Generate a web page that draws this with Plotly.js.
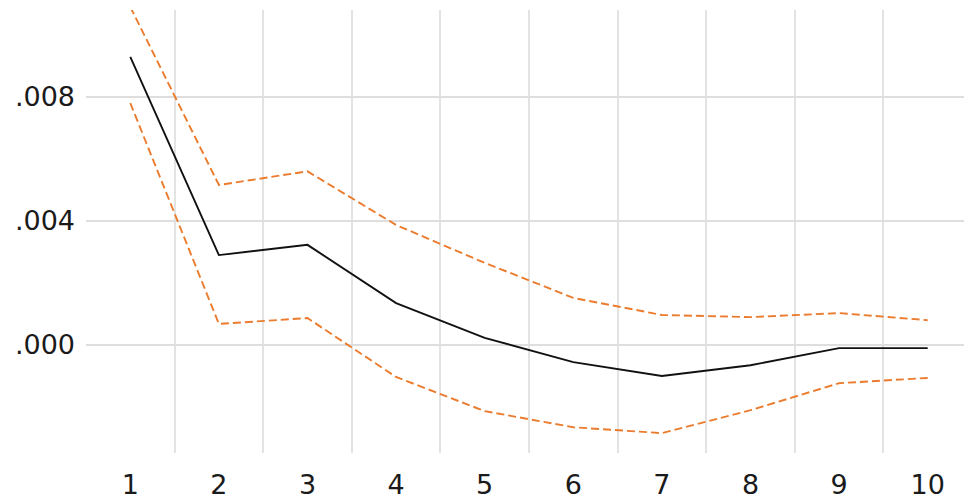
<!DOCTYPE html>
<html>
<head>
<meta charset="utf-8">
<script src="https://cdn.plot.ly/plotly-3.0.1.min.js"></script>
<style>html,body{margin:0;padding:0;background:#fff;}#chart{width:964px;height:501px;}</style>
</head>
<body>
<div id="chart"></div>
<script>
const periods = [1, 2, 3, 4, 5, 6, 7, 8, 9, 10];
const response = [0.00929, 0.0029, 0.00323, 0.00135, 0.00023, -0.00055, -0.001, -0.00065, -0.0001, -0.0001];
const upperBand = [0.0109, 0.00516, 0.0056, 0.00387, 0.00265, 0.00152, 0.00097, 0.0009, 0.00103, 0.0008];
const lowerBand = [0.0078, 0.00068, 0.00087, -0.00103, -0.00213, -0.00265, -0.00284, -0.0021, -0.00123, -0.00106];
const yTickVals = [0, 0.004, 0.008];
const yTickText = ['.000', '.004', '.008'];
const xTickText = periods.map(String);
const gridBoundaries = [1.5, 2.5, 3.5, 4.5, 5.5, 6.5, 7.5, 8.5, 9.5];

const orange = '#EB7B2D';
const traces = [
  {x: periods, y: upperBand, mode: 'lines', line: {color: orange, width: 1.9, dash: '8px,4px'}, hoverinfo: 'skip'},
  {x: periods, y: lowerBand, mode: 'lines', line: {color: orange, width: 1.9, dash: '8px,4px'}, hoverinfo: 'skip'},
  {x: periods, y: response, mode: 'lines', line: {color: '#111111', width: 1.9}, hoverinfo: 'skip'}
];

const layout = {
  width: 964, height: 501,
  margin: {l: 86, r: 0, t: 10, b: 48},
  showlegend: false,
  paper_bgcolor: '#ffffff', plot_bgcolor: '#ffffff',
  font: {family: 'DejaVu Sans, sans-serif', size: 27, color: '#1a1a1a'},
  xaxis: {
    range: [0.5, 10.41],
    tickmode: 'array', tickvals: periods, ticktext: xTickText,
    showgrid: false, zeroline: false, showline: false, ticks: '',
    ticklabelstandoff: 13,
    minor: {tickmode: 'array', tickvals: gridBoundaries, showgrid: true, gridcolor: '#e3e3e3', gridwidth: 2, ticks: ''}
  },
  yaxis: {
    range: [-0.00348, 0.0108],
    tickmode: 'array', tickvals: yTickVals, ticktext: yTickText,
    showgrid: true, gridcolor: '#dedede', gridwidth: 2,
    zeroline: false, showline: false, ticks: '',
    ticklabelstandoff: 10
  }
};

Plotly.newPlot('chart', traces, layout, {staticPlot: true, displayModeBar: false});
</script>
</body>
</html>
